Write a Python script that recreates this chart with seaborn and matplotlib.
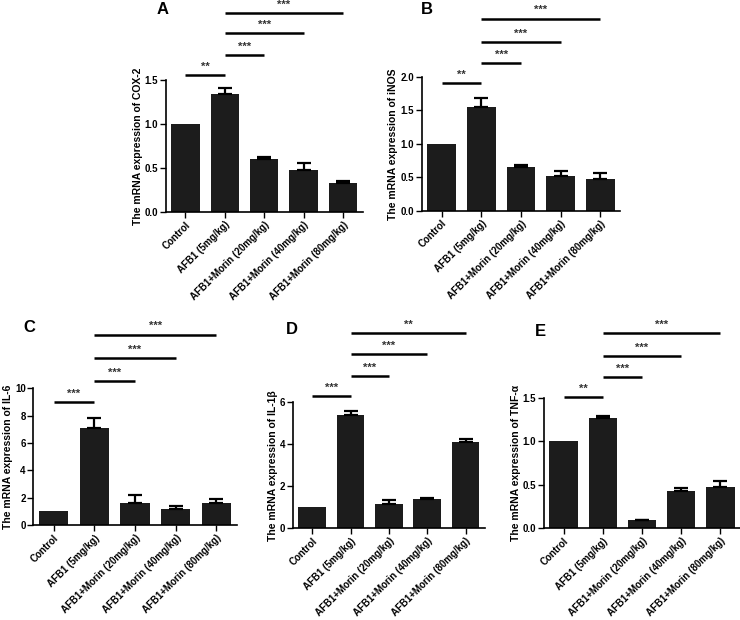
import matplotlib
matplotlib.use('Agg')
import matplotlib.pyplot as plt
import seaborn as sns
import pandas as pd

# groups on the x axis
groups = ['Control', 'AFB1 (5mg/kg)', 'AFB1+Morin (20mg/kg)',
          'AFB1+Morin (40mg/kg)', 'AFB1+Morin (80mg/kg)']

# mean and SEM
cox2_mean = [1.00, 1.34, 0.60, 0.48, 0.33]
cox2_err = [0.00, 0.07, 0.03, 0.08, 0.02]

inos_mean = [1.00, 1.55, 0.66, 0.52, 0.47]
inos_err = [0.00, 0.14, 0.03, 0.08, 0.09]

il6_mean = [1.00, 7.10, 1.65, 1.20, 1.60]
il6_err = [0.00, 0.70, 0.55, 0.20, 0.30]

il1b_mean = [1.00, 5.40, 1.15, 1.38, 4.10]
il1b_err = [0.00, 0.20, 0.20, 0.05, 0.15]

tnfa_mean = [1.00, 1.27, 0.09, 0.43, 0.48]
tnfa_err = [0.00, 0.02, 0.01, 0.03, 0.06]

# significance brackets (group a, group b, label)
sig_a = [(0, 1, '**'), (1, 2, '***'), (1, 3, '***'), (1, 4, '***')]
sig_b = [(0, 1, '**'), (1, 2, '***'), (1, 3, '***'), (1, 4, '***')]
sig_c = [(0, 1, '***'), (1, 2, '***'), (1, 3, '***'), (1, 4, '***')]
sig_d = [(0, 1, '***'), (1, 2, '***'), (1, 3, '***'), (1, 4, '**')]
sig_e = [(0, 1, '**'), (1, 2, '***'), (1, 3, '***'), (1, 4, '***')]

plt.rcParams['font.family'] = ['Liberation Sans', 'DejaVu Sans']
plt.rcParams['font.weight'] = 'bold'

fig = plt.figure(figsize=(7.4, 6.2), dpi=100)

BAR = '#1c1c1c'

panels = [
    # letter, gene, mean, err, sig, sig heights (data), ylim, ticks, fmt, rect, letter pos
    ('A', 'COX-2', cox2_mean, cox2_err, sig_a, [1.557, 1.784, 2.03, 2.26],
     1.5, [0, 0.5, 1.0, 1.5], '{:.1f}', [0.224, 0.658, 0.266, 0.213], (163, 10)),
    ('B', 'iNOS', inos_mean, inos_err, sig_b, [1.91, 2.21, 2.52, 2.87],
     2.0, [0, 0.5, 1.0, 1.5, 2.0], '{:.1f}', [0.570, 0.660, 0.268, 0.216], (427, 10)),
    ('C', 'IL-6', il6_mean, il6_err, sig_c, [8.98, 10.5, 12.2, 13.9],
     10, [0, 2, 4, 6, 8, 10], '{:.0f}', [0.045, 0.153, 0.275, 0.221], (29, 328)),
    ('D', 'IL-1β', il1b_mean, il1b_err, sig_d, [6.29, 7.24, 8.29, 9.29],
     6, [0, 2, 4, 6], '{:.0f}', [0.396, 0.148, 0.259, 0.203], (292, 329)),
    ('E', 'TNF-α', tnfa_mean, tnfa_err, sig_e, [1.51, 1.74, 1.98, 2.25],
     1.5, [0, 0.5, 1.0, 1.5], '{:.1f}', [0.735, 0.148, 0.265, 0.210], (540, 332)),
]

for letter, gene, mean, err, sig, sig_y, ytop, ticks, fmt, rect, lpos in panels:
    ax = fig.add_axes(rect)
    df = pd.DataFrame({'group': groups, 'value': mean})
    sns.barplot(data=df, x='group', y='value', color=BAR, width=0.72,
                saturation=1, ax=ax, zorder=2)
    # upper-only error bars
    xs = [i for i, e in enumerate(err) if e > 0]
    ax.errorbar(xs, [mean[i] for i in xs],
                yerr=[[0] * len(xs), [err[i] for i in xs]],
                fmt='none', ecolor='black', elinewidth=1.6, capsize=5,
                capthick=1.6, zorder=3)

    ax.set_xlim(-0.5, 4.5)
    ax.set_ylim(0, ytop)
    ax.set_yticks(ticks)
    ax.set_yticklabels([fmt.format(t) for t in ticks], fontsize=7, fontweight='bold')
    ax.set_xticks(range(len(groups)))
    ax.set_xticklabels(groups, rotation=45, ha='right', rotation_mode='anchor',
                       fontsize=7, fontweight='bold')
    ax.set_xlabel('')
    ax.set_ylabel('The mRNA expression of ' + gene, fontsize=7.5, fontweight='bold',
                  labelpad=1.5)
    sns.despine(ax=ax)
    for s in ['left', 'bottom']:
        ax.spines[s].set_linewidth(1.2)
        ax.spines[s].set_color('black')
    ax.tick_params(axis='both', direction='out', length=4, width=1, pad=1.5,
                   colors='black')

    for (a, b, lab), h in zip(sig, sig_y):
        ax.plot([a, b], [h, h], color='black', lw=1.8, clip_on=False,
                solid_capstyle='butt')
        ax.annotate(lab, ((a + b) / 2, h), xytext=(0, 2.5),
                    textcoords='offset points', ha='center', va='bottom',
                    fontsize=8, color='#333333', annotation_clip=False)

    fig.text(lpos[0] / 740, 1 - lpos[1] / 620, letter, fontsize=12,
             fontweight='bold', ha='center', va='center')

fig.savefig('out.png', dpi=100)
